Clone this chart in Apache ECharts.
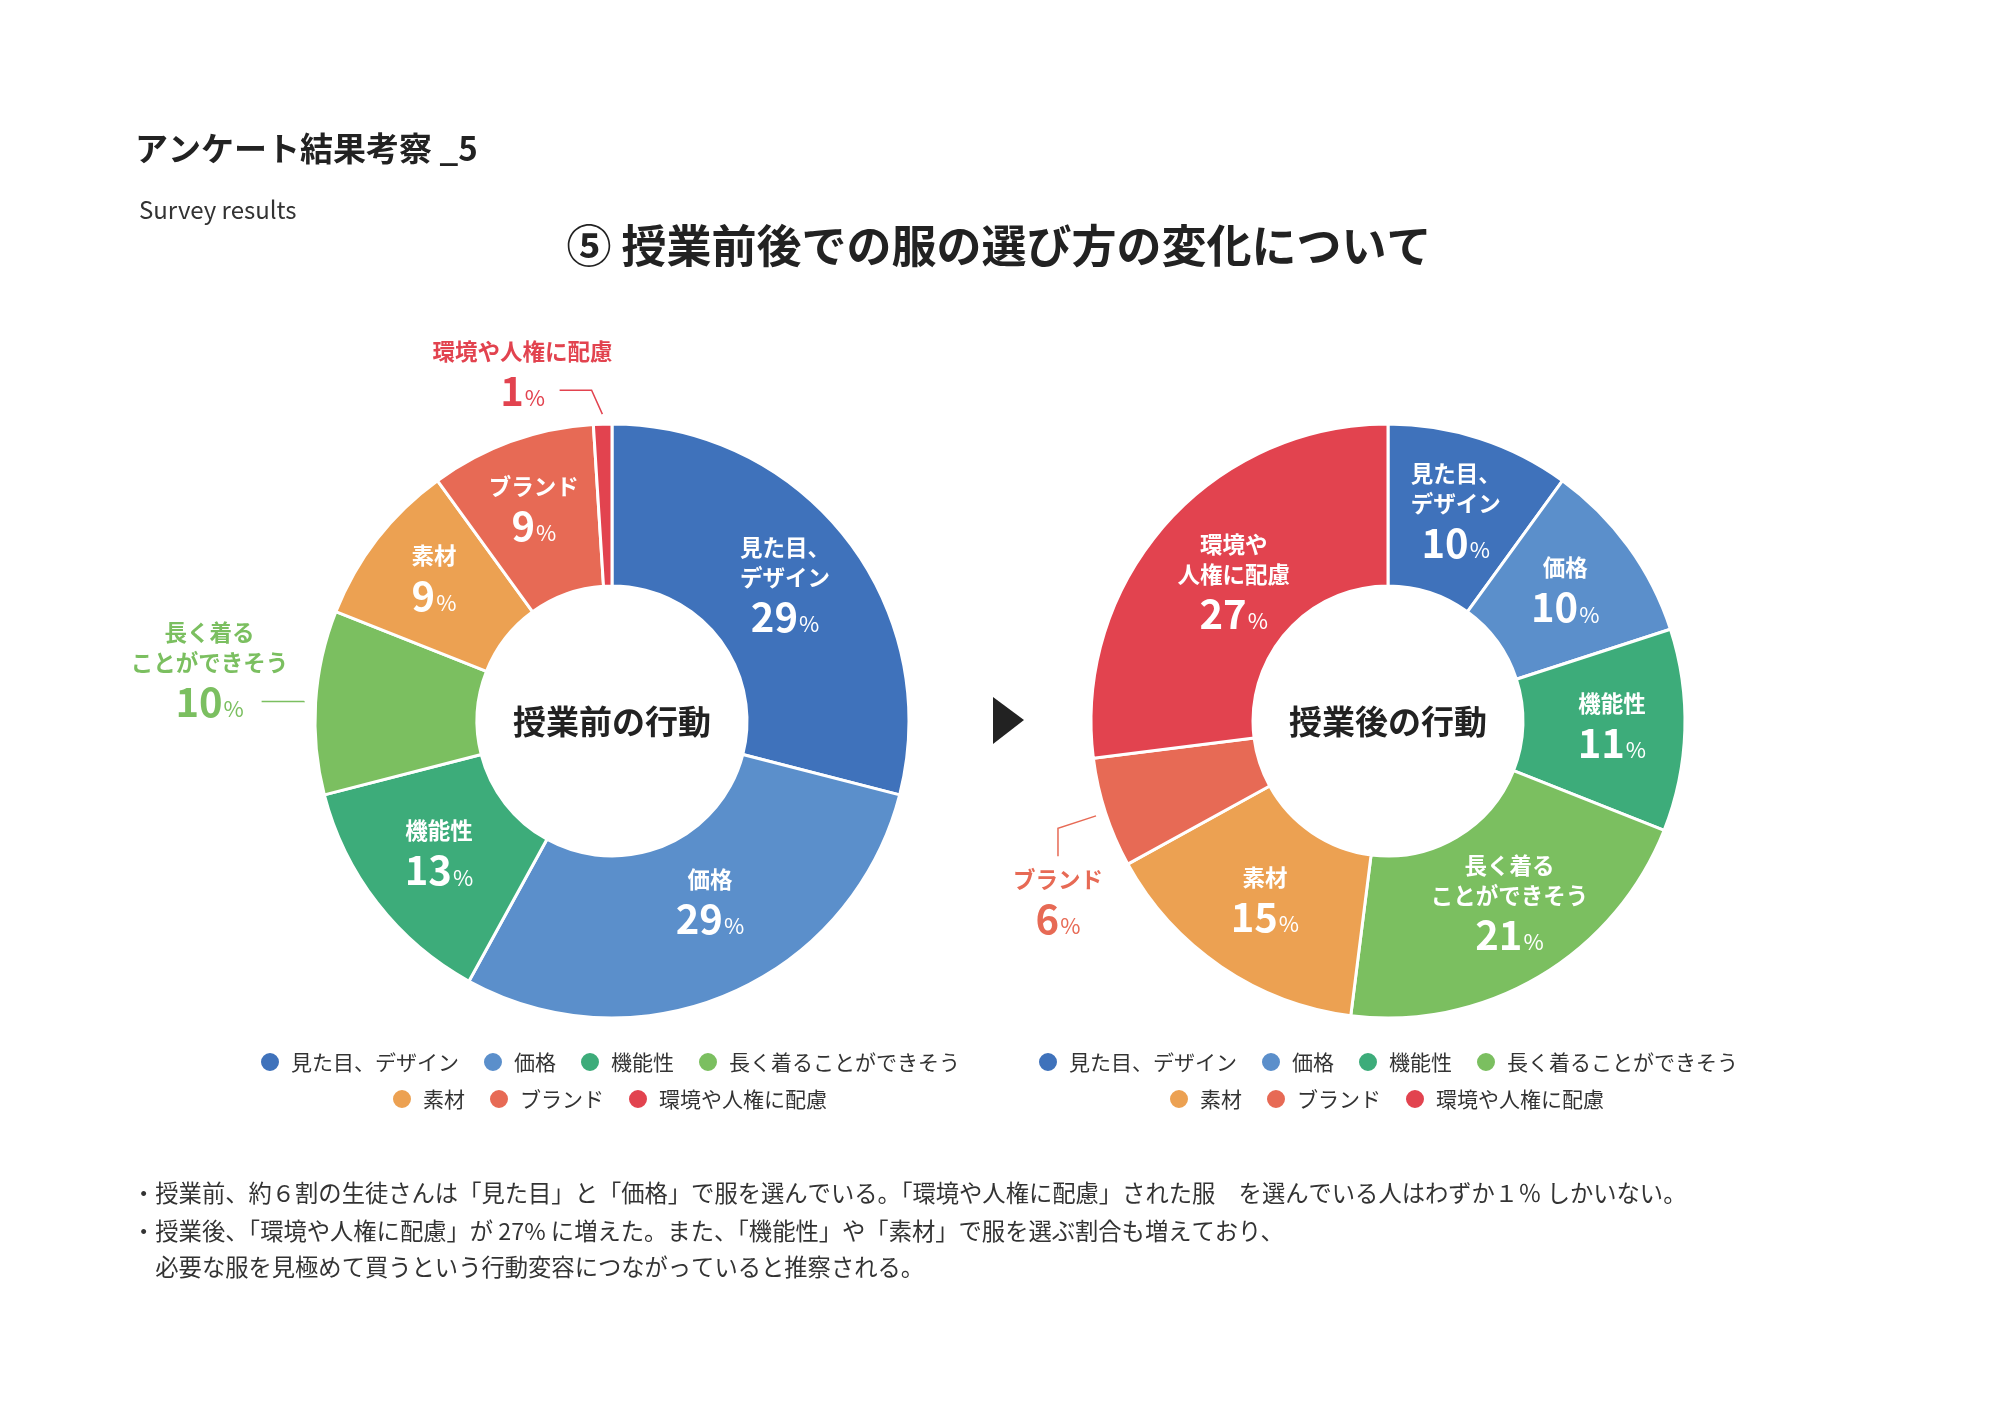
<!DOCTYPE html>
<html>
<head>
<meta charset="utf-8">
<script src="https://cdn.jsdelivr.net/npm/echarts@6/dist/echarts.min.js"></script>
<style>
  html, body { margin: 0; padding: 0; background: #fff; }
  #chart { width: 2000px; height: 1415px; }
</style>
</head>
<body>
<div id="chart"></div>
<script>
var FONT = '"Noto Sans CJK JP", "Noto Sans", sans-serif';

// data
var categories = ['見た目、デザイン', '価格', '機能性', '長く着ることができそう', '素材', 'ブランド', '環境や人権に配慮'];
var beforeValues = [29, 29, 13, 10, 9, 9, 1];
var afterValues = [10, 10, 11, 21, 15, 6, 27];
var beforeLabelNames = ['見た目、\nデザイン', '価格', '機能性', '長く着る\nことができそう', '素材', 'ブランド', '環境や人権に配慮'];
var afterLabelNames = ['見た目、\nデザイン', '価格', '機能性', '長く着る\nことができそう', '素材', 'ブランド', '環境や\n人権に配慮'];
var colors = ['#3F72BB', '#5B8FCB', '#3DAC7A', '#7BBF60', '#ECA152', '#E76A55', '#E2434F'];
var legendRow1 = categories.slice(0, 4);
var legendRow2 = categories.slice(4);

var notes = [
  '・授業前、約６割の生徒さんは「見た目」と「価格」で服を選んでいる。「環境や人権に配慮」された服　を選んでいる人はわずか１％ しかいない。',
  '・授業後、「環境や人権に配慮」が 27% に増えた。また、「機能性」や「素材」で服を選ぶ割合も増えており、',
  '　必要な服を見極めて買うという行動変容につながっていると推察される。'
];

// labels drawn outside the ring: "series-dataIndex"
var outsideLabels = {
  '0-6': { kind: 'side', dx: -37, bendDx: -10, gap: 10, length: 34, length2: 32 },
  '0-3': { kind: 'side', dx: -52, bendDx: 0, gap: 11, length: 12, length2: 42 },
  '1-5': { kind: 'drop', drop: 28, gap: 10, length: 50, length2: 0 }
};
// small nudges of the labels inside the ring
var insideNudge = {
  '0-1': [11, -18], '0-4': [-5, -6], '0-5': [-4, -4],
  '1-2': [5, 0], '1-3': [10, -4], '1-6': [10, 8]
};

function richFor(color) {
  return {
    n: { fontFamily: FONT, fontSize: 22.5, fontWeight: 'bold', lineHeight: 30, color: color, align: 'center' },
    v: { fontFamily: FONT, fontSize: 40, fontWeight: 'bold', lineHeight: 49, color: color, align: 'center' },
    p: { fontFamily: FONT, fontSize: 22, fontWeight: 'normal', color: color, align: 'center',
         padding: [14, 0, 0, 1] }
  };
}

function buildData(seriesIndex, values) {
  return values.map(function (v, i) {
    var item = { name: categories[i], value: v };
    var cfg = outsideLabels[seriesIndex + '-' + i];
    if (cfg) {
      item.label = { position: 'outside', rich: richFor(colors[i]) };
      item.labelLine = { show: true, length: cfg.length, length2: cfg.length2, lineStyle: { color: colors[i], width: 1.5 } };
    }
    return item;
  });
}

function labelLayout(p) {
  var key = p.seriesIndex + '-' + p.dataIndex;
  var cfg = outsideLabels[key];
  if (!cfg) {
    var nudge = insideNudge[key];
    if (!nudge) return {};
    var r = p.labelRect;
    return { x: r.x + r.width / 2 + nudge[0], y: r.y + r.height / 2 + nudge[1], align: 'center', verticalAlign: 'middle' };
  }
  if (!p.labelLinePoints) return {};
  var pts = p.labelLinePoints;
  var a = pts[0], b = pts[1], c = pts[2];
  var len = Math.sqrt((b[0] - a[0]) * (b[0] - a[0]) + (b[1] - a[1]) * (b[1] - a[1])) || 1;
  var start = [a[0] + (b[0] - a[0]) / len * cfg.gap, a[1] + (b[1] - a[1]) / len * cfg.gap];
  if (cfg.kind === 'drop') {
    var end = [b[0], b[1] + cfg.drop];
    return { x: end[0], y: end[1] + 8, align: 'center', verticalAlign: 'top', labelLinePoints: [start, b, end] };
  }
  var bend = [b[0] + cfg.bendDx, b[1]];
  var tail = [c[0] + cfg.bendDx, c[1]];
  return { x: tail[0] + cfg.dx, y: tail[1] + 25, align: 'center', verticalAlign: 'bottom', labelLinePoints: [start, bend, tail] };
}

function pieSeries(seriesIndex, values, labelNames, center) {
  return {
    type: 'pie',
    center: center,
    radius: [135, 297],
    startAngle: 90,
    clockwise: true,
    avoidLabelOverlap: false,
    itemStyle: { borderColor: '#fff', borderWidth: 3 },
    emphasis: { disabled: true },
    label: {
      show: true,
      position: 'inside',
      fontFamily: FONT,
      formatter: function (params) {
        return '{n|' + labelNames[params.dataIndex] + '}\n{v|' + params.value + '}{p|%}';
      },
      rich: richFor('#fff')
    },
    labelLine: { show: false },
    labelLayout: labelLayout,
    data: buildData(seriesIndex, values)
  };
}

function legendRow(names, left, top) {
  return {
    data: names,
    left: left,
    top: top,
    orient: 'horizontal',
    padding: 0,
    icon: 'circle',
    itemWidth: 20,
    itemHeight: 20,
    itemGap: 23,
    selectedMode: false,
    textStyle: { fontFamily: FONT, fontSize: 21, color: '#333', padding: [0, 0, 0, 6] }
  };
}

var chart = echarts.init(document.getElementById('chart'), null, { renderer: 'canvas' });

var graphics = [
  { type: 'text', left: 135, top: 132, style: { text: 'アンケート結果考察 _5', font: 'bold 33px ' + FONT, fill: '#222' } },
  { type: 'text', left: 139, top: 198, style: { text: 'Survey results', font: '24px ' + FONT, fill: '#333' } },
  { type: 'text', x: 999, y: 246, style: { text: '⑤ 授業前後での服の選び方の変化について', font: 'bold 45px ' + FONT, fill: '#222', align: 'center', verticalAlign: 'middle' } },
  { type: 'text', x: 612, y: 721, style: { text: '授業前の行動', font: 'bold 33px ' + FONT, fill: '#222', align: 'center', verticalAlign: 'middle' } },
  { type: 'text', x: 1388, y: 721, style: { text: '授業後の行動', font: 'bold 33px ' + FONT, fill: '#222', align: 'center', verticalAlign: 'middle' } },
  { type: 'polygon', shape: { points: [[993, 697], [1024, 720], [993, 744]] }, style: { fill: '#222' } }
];
notes.forEach(function (t, i) {
  graphics.push({ type: 'text', x: 132, y: [1193, 1231, 1267][i], style: { text: t, font: '23.3px ' + FONT, fill: '#333', verticalAlign: 'middle' } });
});

chart.setOption({
  animation: false,
  color: colors,
  legend: [
    legendRow(legendRow1, 259, 1051),
    legendRow(legendRow2, 391, 1088),
    legendRow(legendRow1, 1037, 1051),
    legendRow(legendRow2, 1168, 1088)
  ],
  series: [
    pieSeries(0, beforeValues, beforeLabelNames, [612, 721]),
    pieSeries(1, afterValues, afterLabelNames, [1388, 721])
  ],
  graphic: graphics
});
</script>
</body>
</html>
